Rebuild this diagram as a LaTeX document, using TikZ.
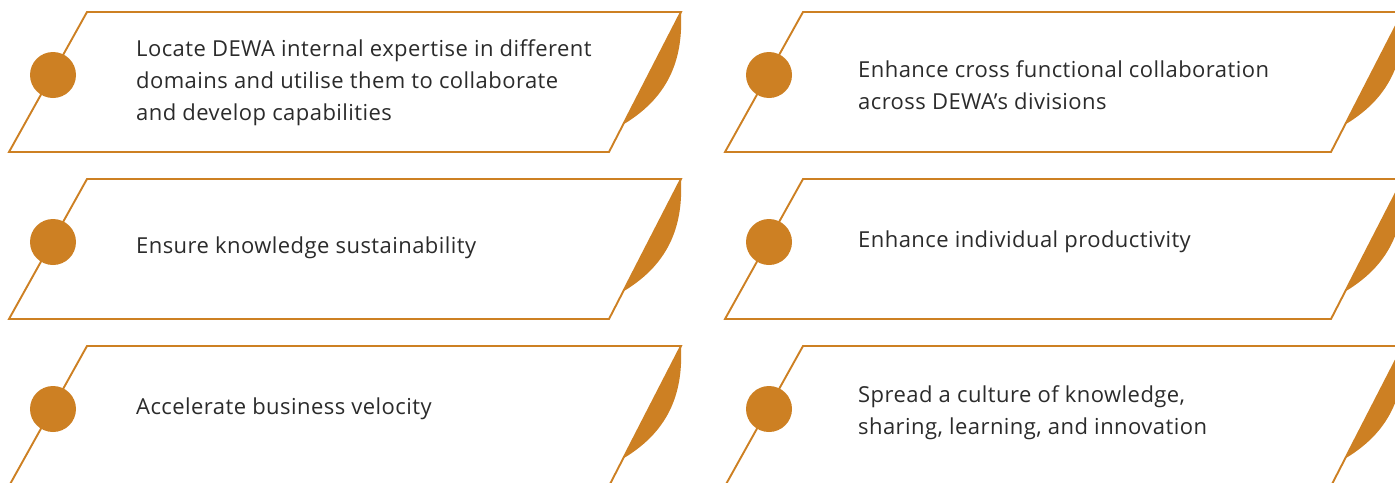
\documentclass[tikz,border=0pt]{standalone}
\usepackage{fontspec}
\setmainfont[Ligatures=NoCommon,LetterSpace=2.0]{Open Sans}
\definecolor{dewaorange}{HTML}{CD8023}
\definecolor{txtgray}{HTML}{2B2B2B}
\tikzset{
  framebox/.style={draw=dewaorange, line width=1.9pt, line join=miter, fill=white},
  leaf/.style={fill=dewaorange, draw=none},
  dot/.style={circle, fill=dewaorange, draw=none, minimum size=46pt, inner sep=0pt},
  label/.style={anchor=west, align=left, text=txtgray, inner sep=0pt,
    font=\fontsize{22}{32}\selectfont},
}
% #1 x shift, #2 y shift, #3 name, #4 extra shift of the right edge
\newcommand{\kmrow}[4]{%
  \begin{scope}[shift={(#1,#2)}]
    \coordinate (#3TL) at (87,12);
    \coordinate (#3TR) at (681+#4,12);
    \coordinate (#3BR) at (609+#4,152);
    \coordinate (#3BL) at (9,152);
    \coordinate (#3P) at (624+#4,124);
    \draw[framebox] (#3TL) -- (#3TR) -- (#3BR) -- (#3BL) -- cycle;
    \fill[leaf] (#3TR) .. controls (683+#4,55) and (672+#4,95) .. (#3P) -- cycle;
    \node[dot] (#3dot) at (53,75) {};
  \end{scope}}
\begin{document}
\begin{tikzpicture}[x=1pt,y=-1pt]
\useasboundingbox (0,0) rectangle (1395,482);
\clip (0,0) rectangle (1395,482);
\kmrow{0}{0}{a}{0}
\kmrow{0}{167}{b}{0}
\kmrow{0}{334}{c}{0}
\kmrow{716}{0}{d}{6}
\kmrow{716}{167}{e}{6}
\kmrow{716}{334}{f}{6}
\node[label] (ta) at (136,83) {Locate DEWA internal expertise in different\\domains and utilise them to collaborate\\and develop capabilities};
\node[label] (tb) at (136,248) {Ensure knowledge sustainability};
\node[label] (tc) at (136,409) {Accelerate business velocity};
\node[label] (td) at (858,85) {Enhance cross functional collaboration\\across DEWA’s divisions};
\node[label] (te) at (858,242) {Enhance individual productivity};
\node[label] (tf) at (858,413) {Spread a culture of knowledge,\\sharing, learning, and innovation};
\end{tikzpicture}
\end{document}
